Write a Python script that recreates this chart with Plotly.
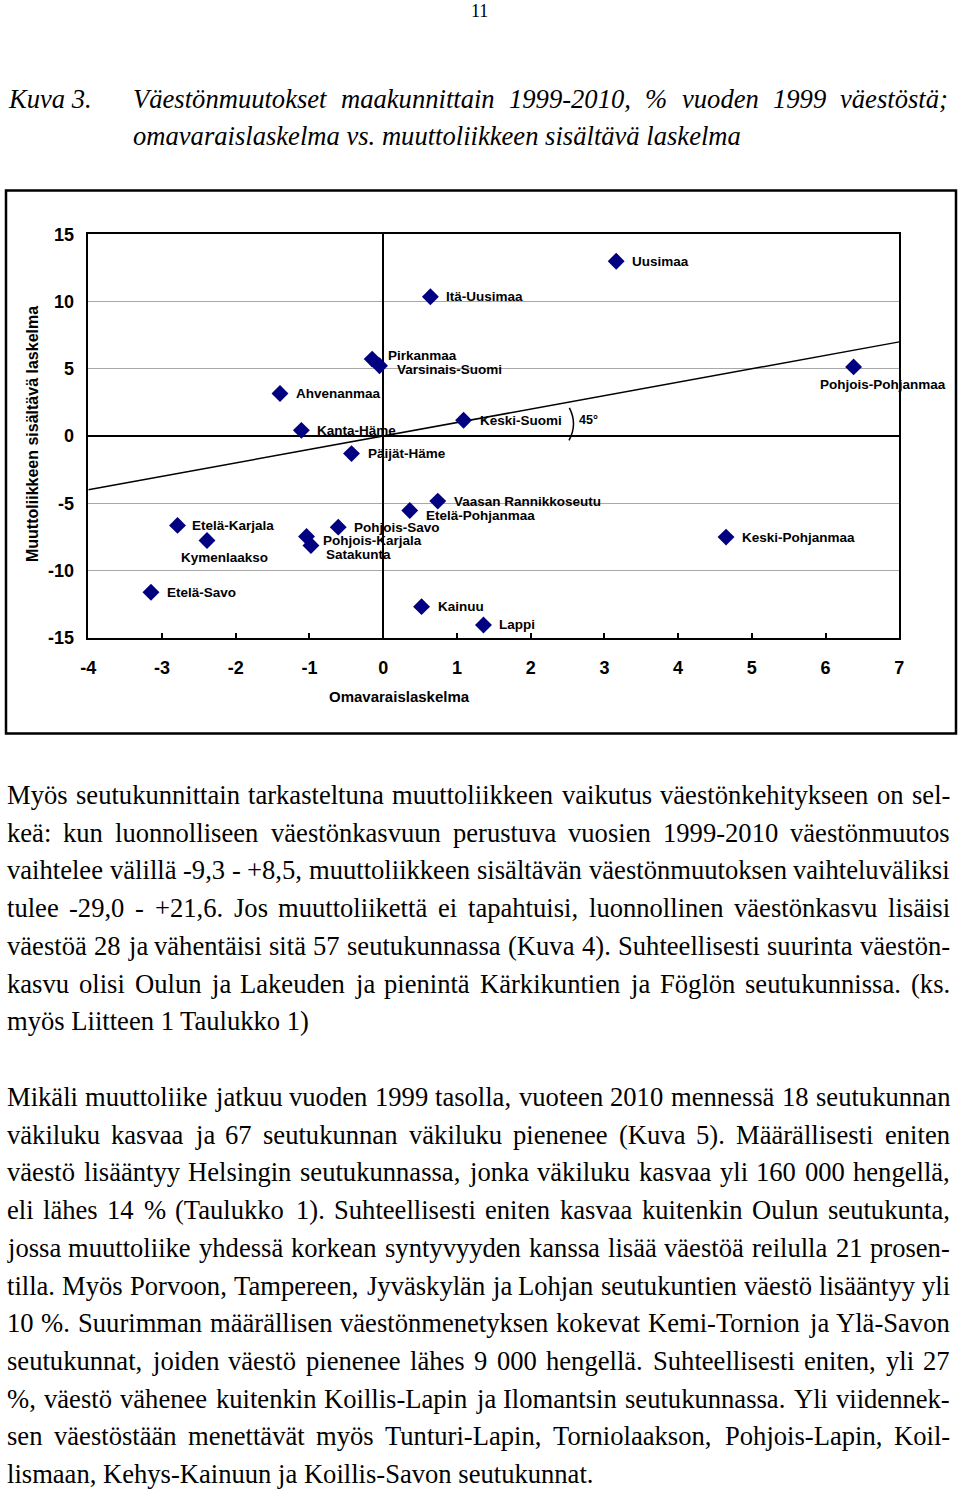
import plotly.graph_objects as go

W, H = 960, 1489

# --- chart data ---
regions = ['Uusimaa', 'Itä-Uusimaa', 'Pirkanmaa', 'Varsinais-Suomi', 'Ahvenanmaa',
           'Kanta-Häme', 'Päijät-Häme', 'Keski-Suomi', 'Pohjois-Pohjanmaa',
           'Vaasan Rannikkoseutu', 'Etelä-Pohjanmaa', 'Etelä-Karjala', 'Kymenlaakso',
           'Pohjois-Savo', 'Pohjois-Karjala', 'Satakunta', 'Etelä-Savo', 'Kainuu',
           'Lappi', 'Keski-Pohjanmaa']
omavarais = [3.16, 0.64, -0.15, -0.05, -1.40, -1.11, -0.43, 1.09, 6.38, 0.74, 0.36,
             -2.79, -2.39, -0.61, -1.04, -0.98, -3.15, 0.52, 1.36, 4.65]
muutto = [13.0, 10.36, 5.72, 5.22, 3.16, 0.42, -1.31, 1.17, 5.14, -4.84, -5.54,
          -6.65, -7.77, -6.78, -7.47, -8.14, -11.62, -12.69, -14.05, -7.52]
x_ticks = [-4, -3, -2, -1, 0, 1, 2, 3, 4, 5, 6, 7]
y_ticks = [-15, -10, -5, 0, 5, 10, 15]
diag = [-4, 7]  # y = x reference line

# --- page text ---
page_no = '11'
caption_label = 'Kuva 3.'
caption_lines = ['Väestönmuutokset maakunnittain 1999-2010, % vuoden 1999 väestöstä;',
                 'omavaraislaskelma vs. muuttoliikkeen sisältävä laskelma']
para1 = ['Myös seutukunnittain tarkasteltuna muuttoliikkeen vaikutus väestönkehitykseen on sel-',
         'keä: kun luonnolliseen väestönkasvuun perustuva vuosien 1999-2010 väestönmuutos',
         'vaihtelee välillä -9,3 - +8,5, muuttoliikkeen sisältävän väestönmuutoksen vaihteluväliksi',
         'tulee -29,0 - +21,6. Jos muuttoliikettä ei tapahtuisi, luonnollinen väestönkasvu lisäisi',
         'väestöä 28 ja vähentäisi sitä 57 seutukunnassa (Kuva 4). Suhteellisesti suurinta väestön-',
         'kasvu olisi Oulun ja Lakeuden ja pienintä Kärkikuntien ja Föglön seutukunnissa. (ks.',
         'myös Liitteen 1 Taulukko 1)']
para2 = ['Mikäli muuttoliike jatkuu vuoden 1999 tasolla, vuoteen 2010 mennessä 18 seutukunnan',
         'väkiluku kasvaa ja 67 seutukunnan väkiluku pienenee (Kuva 5). Määrällisesti eniten',
         'väestö lisääntyy Helsingin seutukunnassa, jonka väkiluku kasvaa yli 160 000 hengellä,',
         'eli lähes 14 % (Taulukko 1). Suhteellisesti eniten kasvaa kuitenkin Oulun seutukunta,',
         'jossa muuttoliike yhdessä korkean syntyvyyden kanssa lisää väestöä reilulla 21 prosen-',
         'tilla. Myös Porvoon, Tampereen, Jyväskylän ja Lohjan seutukuntien väestö lisääntyy yli',
         '10 %. Suurimman määrällisen väestönmenetyksen kokevat Kemi-Tornion ja Ylä-Savon',
         'seutukunnat, joiden väestö pienenee lähes 9 000 hengellä. Suhteellisesti eniten, yli 27',
         '%, väestö vähenee kuitenkin Koillis-Lapin ja Ilomantsin seutukunnassa. Yli viidennek-',
         'sen väestöstään menettävät myös Tunturi-Lapin, Torniolaakson, Pohjois-Lapin, Koil-',
         'lismaan, Kehys-Kainuun ja Koillis-Savon seutukunnat.']

SERIF = 'Liberation Serif, Times New Roman, serif'
SANS = 'Liberation Sans, Arial, sans-serif'
NAVY = '#000080'

# Times metrics (Liberation Serif is metric compatible), used for justification
_roman = dict(zip('abcdefghijklmnopqrstuvwxyz',
                  [444, 500, 444, 500, 444, 333, 500, 500, 278, 278, 500, 278, 778,
                   500, 500, 500, 500, 333, 389, 278, 500, 500, 722, 500, 500, 444]))
_roman.update(zip('ABCDEFGHIJKLMNOPQRSTUVWXYZ',
                  [722, 667, 667, 722, 611, 556, 722, 722, 333, 389, 722, 611, 889,
                   722, 722, 556, 722, 667, 556, 611, 722, 722, 944, 722, 722, 611]))
_roman.update({c: 500 for c in '0123456789'})
_roman.update({' ': 250, ',': 250, '.': 250, '-': 333, '(': 333, ')': 333, ':': 278,
               ';': 278, '%': 833, '+': 564, 'ä': 444, 'ö': 500, 'Ä': 722, 'Ö': 722})
_italic = dict(zip('abcdefghijklmnopqrstuvwxyz',
                   [500, 500, 444, 500, 444, 278, 500, 500, 278, 278, 444, 278, 722,
                    500, 500, 500, 500, 389, 389, 278, 500, 444, 667, 444, 444, 389]))
_italic.update(zip('ABCDEFGHIJKLMNOPQRSTUVWXYZ',
                   [611, 611, 667, 722, 611, 611, 722, 722, 333, 444, 667, 556, 833,
                    667, 722, 611, 722, 611, 500, 556, 722, 611, 833, 611, 556, 556]))
_italic.update({c: 500 for c in '0123456789'})
_italic.update({' ': 250, ',': 250, '.': 250, '-': 333, '%': 833, ';': 333,
                'ä': 500, 'ö': 500})


def px(x):
    return x / W


def py(y):
    return 1 - y / H


def width(s, size, table):
    return sum(table.get(c, 500) for c in s) * size / 1000


annotations = []


def put(text, x, y, font, xanchor='left', **kw):
    annotations.append(dict(text=text, x=px(x), y=py(y), xref='paper', yref='paper',
                            xanchor=xanchor, yanchor='middle', showarrow=False,
                            borderpad=0, borderwidth=0, font=font, **kw))


def line(text, y, left, right, size, table, justify, italic=False):
    font = dict(family=SERIF, size=size, color='black',
                style='italic' if italic else 'normal')
    words = text.split(' ')
    if not justify or len(words) == 1:
        put(text, left, y, font)
        return
    total = sum(width(w, size, table) for w in words)
    gap = (right - left - total) / (len(words) - 1)
    x = left
    for w in words:
        put(w, x, y, font)
        x += width(w, size, table) + gap


BODY = 26.6
put(page_no, 479, 11, dict(family=SERIF, size=18, color='black'), xanchor='center')
put(caption_label, 8, 99, dict(family=SERIF, size=BODY, color='black', style='italic'))
line(caption_lines[0], 99, 133, 948, BODY, _italic, True, italic=True)
line(caption_lines[1], 136, 133, 948, BODY, _italic, False, italic=True)
for i, t in enumerate(para1):
    line(t, 795 + i * 37.7, 7, 950, BODY, _roman, i < len(para1) - 1)
for i, t in enumerate(para2):
    line(t, 1097 + i * 37.7, 7, 950, BODY, _roman, i < len(para2) - 1)

# --- chart ---
label_font = dict(family=SANS, size=13.5, color='black', weight='bold')
label_pos = {  # px right, px down, anchor
    'Pirkanmaa': (15, -4, 'left'),
    'Varsinais-Suomi': (16, 4, 'left'),
    'Pohjois-Pohjanmaa': (29, 18, 'center'),
    'Etelä-Pohjanmaa': (15, 5, 'left'),
    'Etelä-Karjala': (13, 0, 'left'),
    'Kymenlaakso': (17, 17, 'center'),
    'Pohjois-Karjala': (15, 4, 'left'),
    'Satakunta': (14, 9, 'left'),
}
for name, xv, yv in zip(regions, omavarais, muutto):
    dx, dy, anchor = label_pos.get(name, (15, 0, 'left'))
    annotations.append(dict(text=name, x=xv, y=yv, xref='x', yref='y', xshift=dx,
                            yshift=-dy, xanchor=anchor, yanchor='middle', showarrow=False,
                            borderpad=0, font=label_font))

put('45°', 588.5, 419.5, dict(family=SANS, size=12.5, color='black', weight='bold'),
    xanchor='center')
put('Omavaraislaskelma', 399, 696, dict(family=SANS, size=15, color='black', weight='bold'),
    xanchor='center')
put('Muuttoliikkeen sisältävä laskelma', 33, 434,
    dict(family=SANS, size=16, color='black', weight='bold'),
    xanchor='center', textangle=-90)

fig = go.Figure()
fig.add_trace(go.Scatter(x=diag, y=diag, mode='lines', line=dict(color='black', width=1.5),
                         hoverinfo='skip', showlegend=False))
fig.add_trace(go.Scatter(x=omavarais, y=muutto, mode='markers', text=regions,
                         marker=dict(symbol='diamond', size=13, color=NAVY, line=dict(width=0)),
                         showlegend=False))

fig.update_layout(
    width=W, height=H,
    margin=dict(l=0, r=0, t=0, b=0, autoexpand=False),
    paper_bgcolor='white', plot_bgcolor='white',
    annotations=annotations,
    shapes=[
        dict(type='rect', xref='paper', yref='paper', x0=px(6), x1=px(956),
             y0=py(733.5), y1=py(190.5), line=dict(color='black', width=2.5)),
        dict(type='path', xref='x', yref='y', path='M 2.525,2.09 Q 2.64,0.87 2.52,-0.32',
             line=dict(color='black', width=1.5)),
    ],
    xaxis=dict(domain=[px(88.3), px(899.3)], range=[-4, 7], tickmode='array',
               tickvals=x_ticks, ticktext=[str(v) for v in x_ticks], showgrid=False,
               zeroline=True, zerolinecolor='black', zerolinewidth=2,
               showline=True, linecolor='black', linewidth=2, mirror=True,
               ticks='inside', ticklen=5, tickwidth=1.5, tickcolor='black',
               ticklabelstandoff=13, automargin=False,
               tickfont=dict(family=SANS, size=18, color='black', weight='bold')),
    yaxis=dict(domain=[py(637.7), py(234.3)], range=[-15, 15], tickmode='array',
               tickvals=y_ticks, ticktext=[str(v) for v in y_ticks], showgrid=True,
               gridcolor='#a8a8a8', gridwidth=1,
               zeroline=True, zerolinecolor='black', zerolinewidth=2,
               showline=True, linecolor='black', linewidth=1.5, mirror=True,
               ticks='', ticklabelstandoff=9, automargin=False,
               tickfont=dict(family=SANS, size=18, color='black', weight='bold')),
)

# drop the default 8px body margin so the figure fills the window exactly
fig.write_html('out.html', config={'displayModeBar': False},
               post_script="document.body.style.margin='0px';"
                           "document.body.style.overflow='hidden';")
